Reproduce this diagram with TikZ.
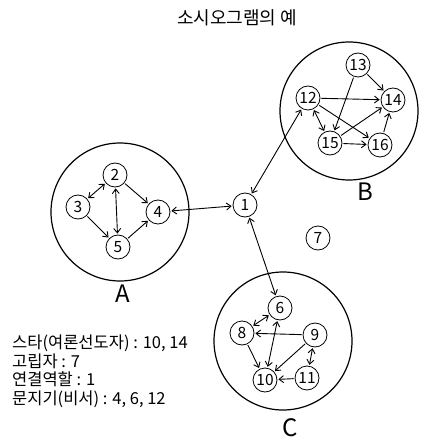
\documentclass[tikz,border=0pt]{standalone}
\usepackage{fontspec}
\setmainfont{Noto Sans CJK KR}
\usetikzlibrary{arrows.meta}

\begin{document}
\begin{tikzpicture}[
    x=1pt, y=-1pt,
    >={Straight Barb[length=4.5pt,width=7pt]},
    member/.style={draw, circle, minimum size=24pt, inner sep=0pt, line width=0.8pt, font=\fontsize{15.5}{15.5}\selectfont},
    group/.style={draw, circle, minimum size=138pt, inner sep=0pt, line width=1.2pt},
    grouplabel/.style={font=\fontsize{24}{24}\selectfont},
    link/.style={->, line width=0.9pt, shorten >=1pt, shorten <=1pt},
    both/.style={<->, line width=0.9pt, shorten >=1pt, shorten <=1pt},
    every node/.style={font=\fontsize{16.5}{18.5}\selectfont}
]
\useasboundingbox (0,0) rectangle (430,446);

% ---- Title ----
\node[font=\fontsize{18}{18}\selectfont] (title) at (237,18) {소시오그램의 예};

% ---- Groups ----
\node[group] (grpA) at (120,212) {};
\node[group] (grpB) at (349,111) {};
\node[group] (grpC) at (283,341) {};
\node[grouplabel] (labA) at (123,294) {A};
\node[grouplabel] (labB) at (365,192) {B};
\node[grouplabel] (labC) at (290,428) {C};

% ---- Members ----
\node[member] (m1) at (245,205) {1};
\node[member] (m2) at (115,175) {2};
\node[member] (m3) at (78,207) {3};
\node[member] (m4) at (158,212) {4};
\node[member] (m5) at (118,247) {5};
\node[member] (m6) at (280,308) {6};
\node[member] (m7) at (318,238) {7};
\node[member] (m8) at (242,333) {8};
\node[member] (m9) at (315,335) {9};
\node[member] (m10) at (265,380) {10};
\node[member] (m11) at (307,378) {11};
\node[member] (m12) at (308,98) {12};
\node[member] (m13) at (358,65) {13};
\node[member] (m14) at (393,100) {14};
\node[member] (m15) at (330,143) {15};
\node[member] (m16) at (380,145) {16};

% ---- Group A ----
\draw[both] (m2) -- (m3);
\draw[both] (m2) -- (m5);
\draw[link] (m2) -- (m4);
\draw[link] (m3) -- (m5);
\draw[link] (m5) -- (m4);

% ---- Group B ----
\draw[link] (m13) -- (m14);
\draw[link] (m12) -- (m14);
\draw[link] (m13) -- (m15);
\draw[link] (m15) -- (m14);
\draw[link] (m12) -- (m16);
\draw[link] (m15) -- (m16);
\draw[link] (m16) -- (m14);
\draw[both] (m12) -- (m15);

% ---- Group C ----
\draw[both] (m6) -- (m8);
\draw[both] (m6) -- (m10);
\draw[link] (m9) -- (m8);
\draw[link] (m8) -- (m10);
\draw[link] (m9) -- (m10);
\draw[both] (m9) -- (m11);
\draw[link] (m11) -- (m10);

% ---- Links through 1 ----
\draw[both] (m1) -- (m4);
\draw[both] (m1) -- (m12);
\draw[both] (m1) -- (m6);

% ---- Legend ----
\node[anchor=north west, align=left, inner sep=0pt] (legend) at (12,335) {%
    스타(여론선도자) : 10, 14\\
    고립자 : 7\\
    연결역할 : 1\\
    문지기(비서) : 4, 6, 12};

\end{tikzpicture}
\end{document}
